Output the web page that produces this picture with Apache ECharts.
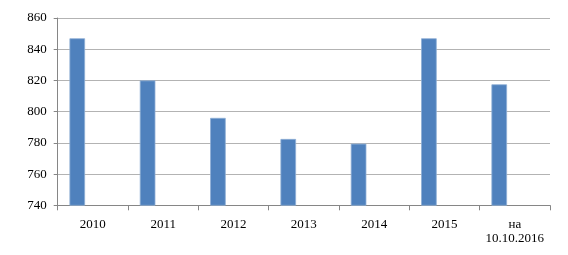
<!DOCTYPE html>
<html><head><meta charset="utf-8">
<script src="https://cdn.jsdelivr.net/npm/echarts@6/dist/echarts.min.js"></script>
<style>html,body{margin:0;padding:0;background:#fff}#c{width:568px;height:255px}</style>
</head><body><div id="c"></div>
<script>
const categories = ['2010', '2011', '2012', '2013', '2014', '2015', 'на\n10.10.2016'];
const values = [847, 820, 796, 782.5, 779.5, 847, 817.5];
const yTicks = { min: 740, max: 860, interval: 20 };

const chart = echarts.init(document.getElementById('c'), null, { renderer: 'canvas' });
const font = '"Liberation Serif", "Times New Roman", serif';
chart.setOption({
  animation: false,
  grid: { left: 57.7, right: 18, top: 18, bottom: 49.7, containLabel: false },
  xAxis: {
    type: 'category', data: categories,
    axisLine: { show: true, lineStyle: { color: '#868686', width: 1 } },
    axisTick: { show: true, length: 5, lineStyle: { color: '#868686' }, alignWithLabel: false },
    axisLabel: { color: '#000', fontFamily: font, fontSize: 13, margin: 12, lineHeight: 14, interval: 0 },
    splitLine: { show: false }
  },
  yAxis: {
    type: 'value', min: yTicks.min, max: yTicks.max, interval: yTicks.interval,
    axisLine: { show: true, lineStyle: { color: '#868686', width: 1 } },
    axisTick: { show: true, length: 4, lineStyle: { color: '#868686' } },
    axisLabel: { color: '#000', fontFamily: font, fontSize: 13, margin: 11 },
    splitLine: { show: true, lineStyle: { color: '#b3b3b3', width: 1 } }
  },
  series: [
    { type: 'bar', data: values, barWidth: 15.6, barGap: '0%',
      itemStyle: { color: '#4f81bd', borderColor: '#8eaed6', borderWidth: 0.8 } },
    { type: 'bar', data: values.map(() => null), barWidth: 15.6, barGap: '0%' },
    { type: 'bar', data: values.map(() => null), barWidth: 15.6, barGap: '0%' }
  ]
});
</script></body></html>
